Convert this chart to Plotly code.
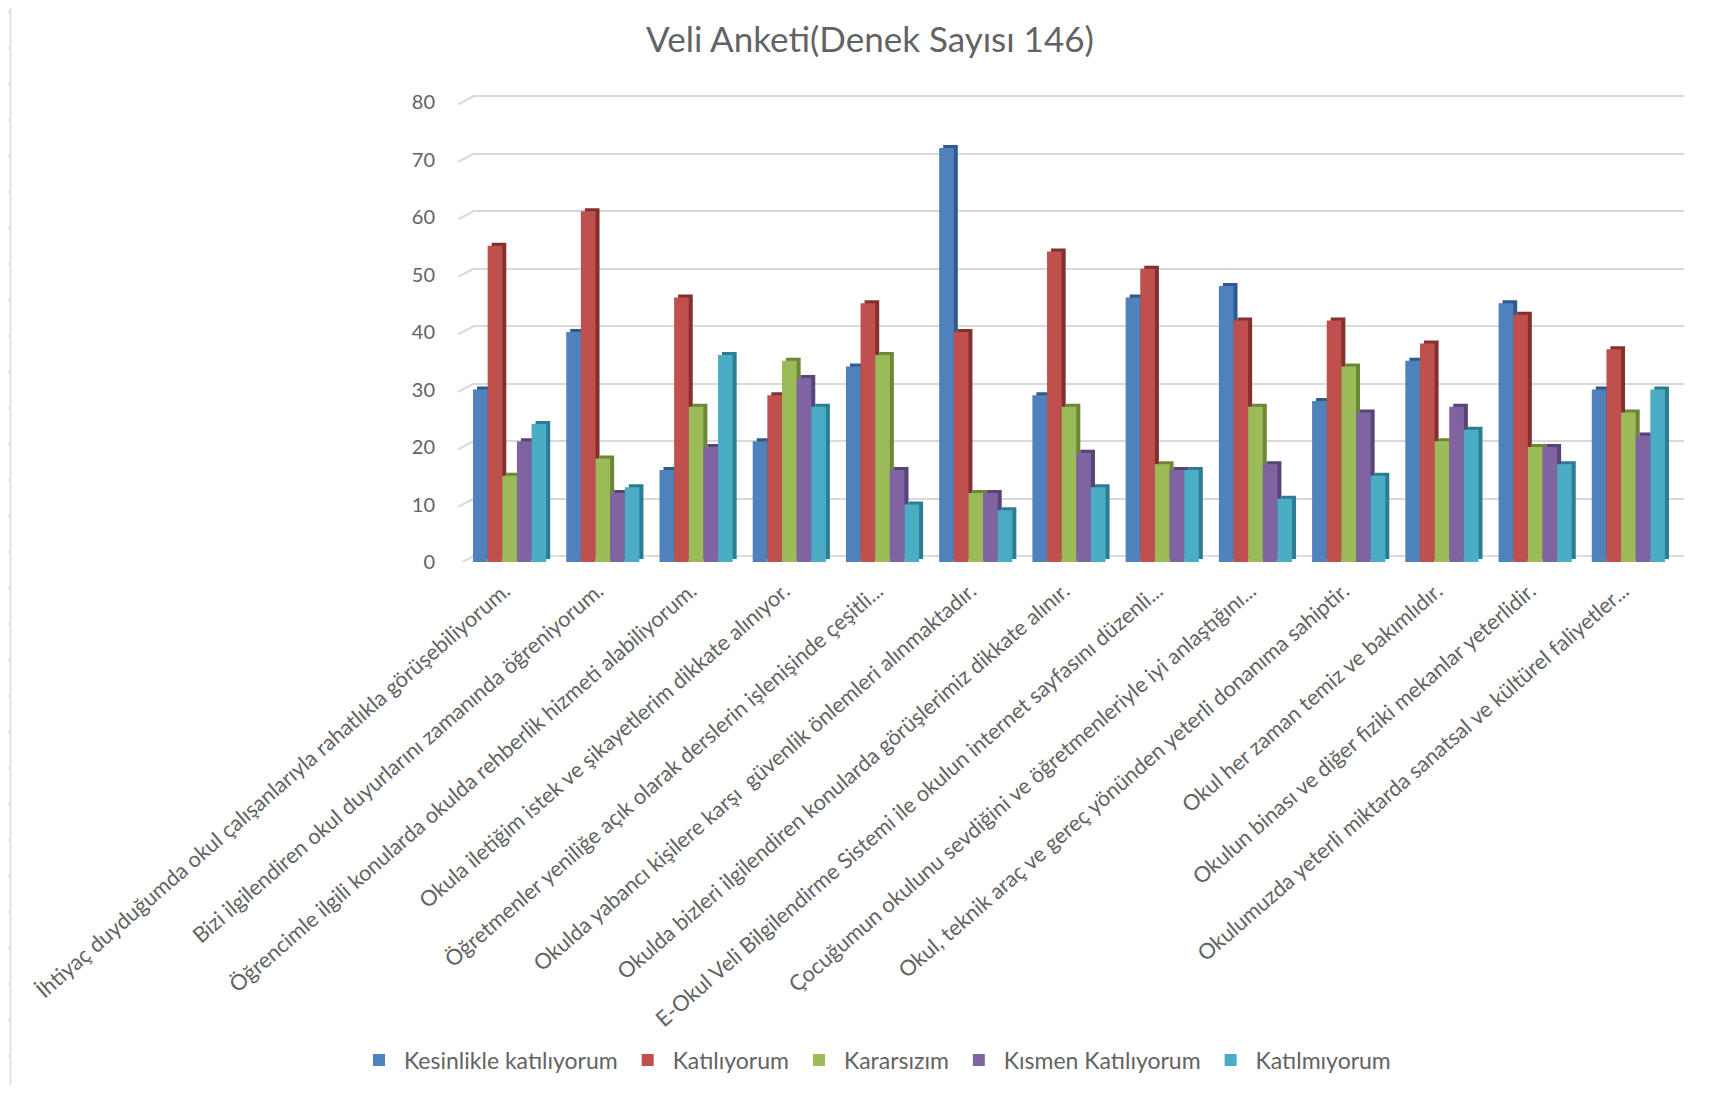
import plotly.graph_objects as go

categories = [
    "İhtiyaç duyduğumda okul çalışanlarıyla rahatlıkla görüşebiliyorum.",
    "Bizi ilgilendiren okul duyurlarını zamanında öğreniyorum.",
    "Öğrencimle ilgili konularda okulda rehberlik hizmeti alabiliyorum.",
    "Okula iletiğim istek ve şikayetlerim dikkate alınıyor.",
    "Öğretmenler yeniliğe açık olarak derslerin işlenişinde çeşitli...",
    "Okulda yabancı kişilere karşı  güvenlik önlemleri alınmaktadır.",
    "Okulda bizleri ilgilendiren konularda görüşlerimiz dikkate alınır.",
    "E-Okul Veli Bilgilendirme Sistemi ile okulun internet sayfasını düzenli...",
    "Çocuğumun okulunu sevdiğini ve öğretmenleriyle iyi anlaştığını...",
    "Okul, teknik araç ve gereç yönünden yeterli donanıma sahiptir.",
    "Okul her zaman temiz ve bakımlıdır.",
    "Okulun binası ve diğer fiziki mekanlar yeterlidir.",
    "Okulumuzda yeterli miktarda sanatsal ve kültürel faliyetler...",
]
kesinlikle = [30, 40, 16, 21, 34, 72, 29, 46, 48, 28, 35, 45, 30]
katiliyorum = [55, 61, 46, 29, 45, 40, 54, 51, 42, 42, 38, 43, 37]
kararsizim = [15, 18, 27, 35, 36, 12, 27, 17, 27, 34, 21, 20, 26]
kismen = [21, 12, 20, 32, 16, 12, 19, 16, 17, 26, 27, 20, 22]
katilmiyorum = [24, 13, 36, 27, 10, 9, 13, 16, 11, 15, 23, 17, 30]
series_names = ["Kesinlikle katılıyorum", "Katılıyorum", "Kararsızım", "Kısmen Katılıyorum", "Katılmıyorum"]
series_values = [kesinlikle, katiliyorum, kararsizim, kismen, katilmiyorum]
front_colors = ["#4F81BD", "#C0504D", "#9BBB59", "#8064A2", "#4BACC6"]
side_colors = ["#2F5A8E", "#84302E", "#6C8736", "#58437A", "#2C7D93"]
y_ticks = [0, 10, 20, 30, 40, 50, 60, 70, 80]

PAGE_W, PAGE_H = 1729, 1093
M = 8  # the page's own body margin
W, H = PAGE_W - 2 * M, PAGE_H - 2 * M
FONT = "Lato"
TXT = "#636363"
GRID = "#D9D9D9"
PX = 5.75  # pixels per unit on the value axis


def px(x):
    return (x - M) / W


def py(y):
    return 1 - (y - M) / H


def xdom(a, b):
    return [px(a), px(b)]


def ydom(bottom, top):
    return [py(bottom), py(top)]


fig = go.Figure()
# invisible trace to carry the back wall's gridlines
fig.add_trace(go.Bar(x=categories, y=[0] * len(categories), showlegend=False, hoverinfo="skip",
                     xaxis="x", yaxis="y"))
for name, vals, col in zip(series_names, series_values, side_colors):
    fig.add_trace(go.Bar(x=categories, y=vals, name=name, marker=dict(color=col, line_width=0),
                         showlegend=False, hoverinfo="skip", xaxis="x2", yaxis="y2"))
for name, vals, col in zip(series_names, series_values, front_colors):
    fig.add_trace(go.Bar(x=categories, y=vals, name=name, marker=dict(color=col, line_width=0),
                         xaxis="x3", yaxis="y3"))

wall_x = xdom(474, 1684)
front_x = xdom(463, 1675)
shadow_x = xdom(467, 1679)
yr = [0, 80]
hidden = dict(showgrid=False, zeroline=False, showticklabels=False, ticks="", showline=False)

shapes = [dict(type="line", xref="paper", yref="y", x0=px(458), x1=px(474), y0=t - 1.45, y1=t,
               line=dict(color=GRID, width=2), layer="below") for t in y_ticks]
shapes.append(dict(type="line", xref="paper", yref="paper", x0=px(10.5), x1=px(10.5), y0=0, y1=py(3),
                   line=dict(color="#E2E2E2", width=2), layer="below"))
for ry in range(12, 1093, 36):
    shapes.append(dict(type="line", xref="paper", yref="paper", x0=px(8), x1=px(10.5), y0=py(ry), y1=py(ry),
                       line=dict(color="#E2E2E2", width=2), layer="below"))

fig.update_layout(
    width=W, height=H, autosize=False,
    margin=dict(l=0, r=0, t=0, b=0),
    paper_bgcolor="white", plot_bgcolor="rgba(0,0,0,0)",
    barmode="group", bargap=0.215, bargroupgap=0,
    title=dict(text="Veli Anketi(Denek Sayısı 146)", x=px(870), xanchor="center", y=py(40), yanchor="middle",
               font=dict(family=FONT, size=35, color=TXT)),
    font=dict(family=FONT, color=TXT),
    xaxis=dict(domain=wall_x, **hidden, type="category", range=[-0.5, 12.5], anchor="y"),
    yaxis=dict(domain=ydom(556 + PX, 96 - PX), range=[-1, 81], showgrid=True, gridcolor=GRID, gridwidth=2,
               zeroline=False, showticklabels=False, tickvals=y_ticks, anchor="x"),
    xaxis2=dict(domain=shadow_x, **hidden, type="category", range=[-0.5, 12.5], anchor="y2"),
    yaxis2=dict(domain=ydom(559, 99), range=yr, **hidden, anchor="x2"),
    xaxis3=dict(domain=front_x, type="category", range=[-0.5, 12.5], anchor="y3", tickangle=-41,
                showgrid=False, zeroline=False, showline=False, ticks="", ticklabelstandoff=11,
                ticklabelshift=-5,
                tickfont=dict(family=FONT, size=21.7, color=TXT), automargin=False),
    yaxis3=dict(domain=ydom(562, 102), range=yr, tickvals=y_ticks, showgrid=False, zeroline=False,
                showline=False, ticks="", ticklabelstandoff=27,
                tickfont=dict(family=FONT, size=20, color=TXT), anchor="x3", automargin=False),
    legend=dict(orientation="h", x=px(354), xanchor="left", y=py(1060), yanchor="middle",
                font=dict(family=FONT, size=23, color=TXT), itemwidth=40, traceorder="normal"),
    shapes=shapes,
)
fig.write_html("out.html")
